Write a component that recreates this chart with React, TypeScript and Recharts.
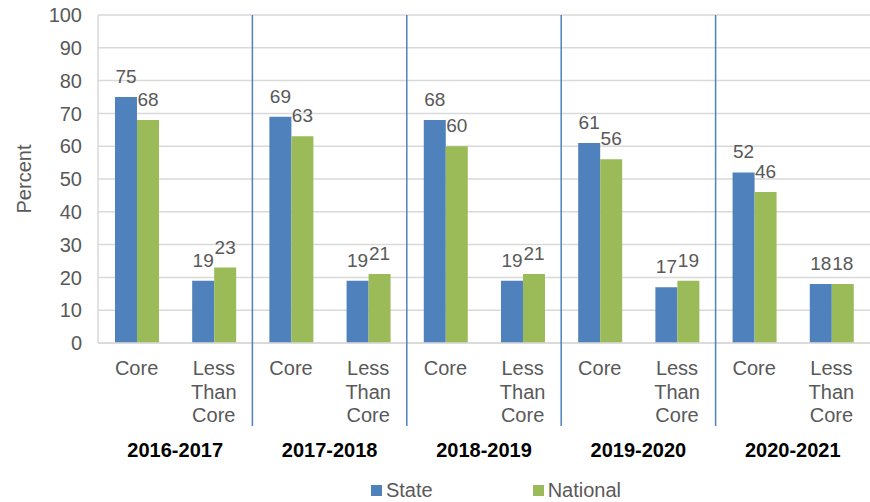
import { BarChart, Bar, XAxis, YAxis, CartesianGrid, Legend, LabelList } from "recharts";

const years = ["2016-2017", "2017-2018", "2018-2019", "2019-2020", "2020-2021"];
const levels = ["Core", "Less Than Core"];
const stateValues = [75, 19, 69, 19, 68, 19, 61, 17, 52, 18];
const nationalValues = [68, 23, 63, 21, 60, 21, 56, 19, 46, 18];
const yTicks = [0, 10, 20, 30, 40, 50, 60, 70, 80, 90, 100];

const data = stateValues.map((s, i) => ({
  level: levels[i % 2],
  year: years[Math.floor(i / 2)],
  state: s,
  national: nationalValues[i],
}));

const BLUE = "#4f81bd";
const GREEN = "#9bbb59";
const GRAY = "#595959";
const FONT = "'Liberation Sans', Arial, sans-serif";

const W = 870;
const H = 502;
const TOP = 15;
const PLOT_H = 328;
const XAXIS_H = 126;

function LevelTick(props: any) {
  const { x, y, payload, index } = props;
  const half = payload.offset ?? 38.6;
  const words = index % 2 === 0 ? ["Core"] : ["Less", "Than", "Core"];
  const isLast = index === data.length - 1;
  return (
    <g>
      <text x={x} y={y + 24} textAnchor="middle" fill={GRAY} fontSize={20} fontFamily={FONT}>
        {words.map((w, i) => (
          <tspan key={i} x={x} dy={i === 0 ? 0 : 23.5}>
            {w}
          </tspan>
        ))}
      </text>
      {index % 2 === 0 && (
        <text
          x={x + half}
          y={y + 106}
          textAnchor="middle"
          fill="#000"
          fontSize={20}
          fontWeight="bold"
          fontFamily={FONT}
        >
          {data[index].year}
        </text>
      )}
      {index % 2 === 1 && !isLast && (
        <line x1={x + half} x2={x + half} y1={y - PLOT_H - 8} y2={y + 75} stroke={BLUE} strokeWidth={1.5} />
      )}
    </g>
  );
}

function LegendContent() {
  const items = [
    { name: "State", color: BLUE },
    { name: "National", color: GREEN },
  ];
  return (
    <div
      style={{
        display: "flex",
        justifyContent: "center",
        paddingLeft: 122,
        paddingTop: 10,
        gap: 100,
        fontFamily: FONT,
        fontSize: 20,
        color: GRAY,
      }}
    >
      {items.map((it) => (
        <div key={it.name} style={{ display: "flex", alignItems: "center", gap: 4 }}>
          <span style={{ display: "inline-block", width: 11, height: 11, background: it.color }} />
          <span>{it.name}</span>
        </div>
      ))}
    </div>
  );
}

export default function App() {
  return (
    <div style={{ width: W, height: H, background: "#fff" }}>
      <style>{"body{margin:0}"}</style>
      <BarChart
        width={W}
        height={H}
        data={data}
        margin={{ top: TOP, right: 0, left: 0, bottom: 0 }}
        barCategoryGap="22%"
        barGap={0}
      >
        <CartesianGrid vertical={false} stroke="#d9d9d9" strokeWidth={1.5} />
        <XAxis
          dataKey="level"
          interval={0}
          height={XAXIS_H}
          axisLine={{ stroke: "#d9d9d9", strokeWidth: 1.5 }}
          tickLine={false}
          tick={<LevelTick />}
        />
        <YAxis
          width={98}
          domain={[0, 100]}
          ticks={yTicks}
          axisLine={{ stroke: "#d9d9d9", strokeWidth: 1.5 }}
          tickLine={false}
          tickSize={0}
          tickMargin={16}
          tick={{ fill: GRAY, fontSize: 20, fontFamily: FONT }}
          label={{
            value: "Percent",
            angle: -90,
            position: "insideLeft",
            offset: 24,
            style: { fill: GRAY, fontSize: 20, fontFamily: FONT, textAnchor: "middle" },
          }}
        />
        <Legend verticalAlign="bottom" height={33} content={<LegendContent />} />
        <Bar dataKey="state" name="State" fill={BLUE} isAnimationActive={false}>
          <LabelList dataKey="state" position="top" offset={14} fill={GRAY} fontSize={19} fontFamily={FONT} />
        </Bar>
        <Bar dataKey="national" name="National" fill={GREEN} isAnimationActive={false}>
          <LabelList dataKey="national" position="top" offset={14} fill={GRAY} fontSize={19} fontFamily={FONT} />
        </Bar>
      </BarChart>
    </div>
  );
}
